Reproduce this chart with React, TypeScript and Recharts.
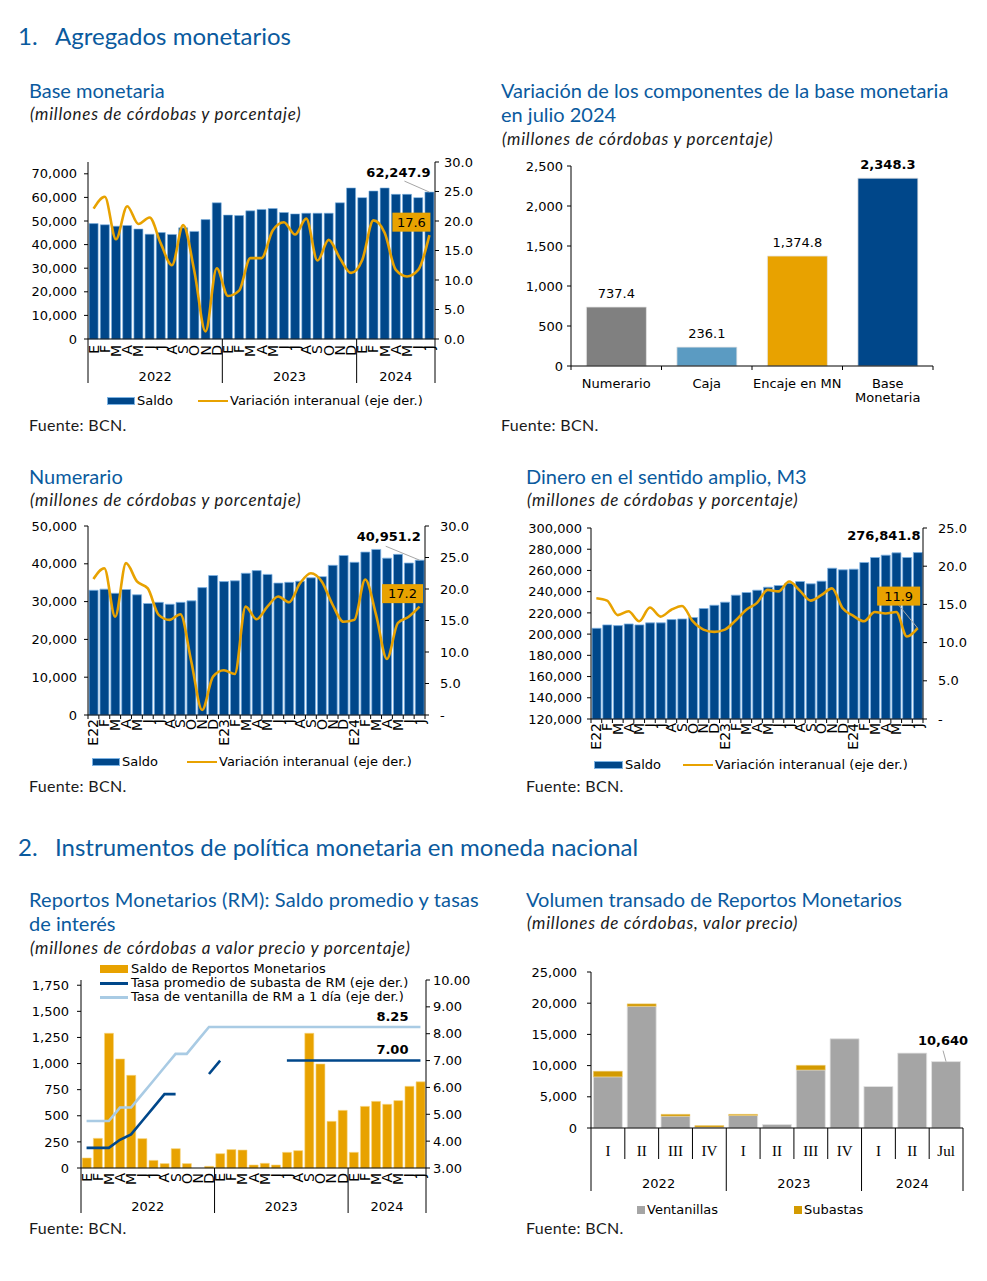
import {
  ComposedChart,
  Bar,
  Line,
  XAxis,
  YAxis,
  LabelList,
  Cell,
} from "recharts";

const AXIS_FONT = "'DejaVu Sans', Verdana, sans-serif";
const HEAD_FONT = "Lato, 'Noto Sans', sans-serif";
const SERIF = "'Liberation Serif', 'DejaVu Serif', serif";
const HEAD_BLUE = "#0a5a9e";
const NAVY = "#00478a";
const NAVY_EDGE = "#7db3e3";
const GOLD = "#e8a200";
const LIGHT_BLUE = "#a9cbe4";
const LEADER = "#a6a6a6";

// months, E = enero ... D = diciembre
const MONTHS = ["E", "F", "M", "A", "M", "J", "J", "A", "S", "O", "N", "D", "E", "F", "M", "A", "M", "J", "J", "A", "S", "O", "N", "D", "E", "F", "M", "A", "M", "J", "J"];
const MONTHS_TAGGED = ["E22", "F", "M", "A", "M", "J", "J", "A", "S", "O", "N", "D", "E23", "F", "M", "A", "M", "J", "J", "A", "S", "O", "N", "D", "E24", "F", "M", "A", "M", "J", "J"];
const YEARS = ["2022", "2023", "2024"];
const YEAR_MONTHS = [12, 12, 7];

// Base monetaria
const BASE_SALDO = [48900, 48400, 47800, 48100, 46600, 44400, 45100, 44300, 47100, 45600, 50600, 57700, 52500, 52300, 54300, 54900, 55300, 53600, 53000, 53300, 53300, 53300, 57700, 64000, 59900, 62700, 64000, 61300, 61300, 59900, 62247.9];
const BASE_VAR = [22.1, 24.1, 16.9, 22.5, 19.5, 20.6, 16.2, 12.5, 19.3, 11.5, 1.3, 12.0, 7.3, 8.2, 13.7, 13.7, 18.4, 19.8, 17.7, 20.4, 13.3, 16.8, 13.7, 11.2, 13.4, 20.1, 18.0, 11.7, 10.6, 11.7, 17.6];

// Variacion de componentes, julio 2024
const COMP_LABELS = ["Numerario", "Caja", "Encaje en MN", "Base\nMonetaria"];
const COMP_VALUES = [737.4, 236.1, 1374.8, 2348.3];
const COMP_COLORS = ["#808080", "#5b9bc2", GOLD, NAVY];

// Numerario
const NUM_SALDO = [33000, 33300, 32200, 33200, 31800, 29500, 29800, 29300, 29800, 30200, 33700, 36900, 35300, 35500, 37500, 38200, 37200, 34900, 35100, 35400, 36300, 36600, 39600, 42200, 40400, 43100, 43800, 41500, 42500, 40200, 40951.2];
const NUM_VAR = [21.6, 23.3, 15.6, 24.1, 21.2, 20.1, 15.9, 15.1, 16.0, 8.5, 0.8, 6.1, 7.1, 6.5, 17.2, 15.2, 17.2, 18.8, 17.9, 20.9, 22.5, 21.2, 17.5, 14.8, 15.1, 21.5, 15.9, 8.9, 14.6, 15.6, 17.2];

// M3
const M3_SALDO = [205500, 208700, 208000, 209600, 208700, 210600, 210600, 213700, 214300, 215600, 224100, 227200, 230100, 236700, 239200, 241400, 244200, 245800, 248000, 249600, 247400, 249900, 262100, 260600, 261200, 267500, 272200, 274400, 276600, 272200, 276841.8];
const M3_VAR = [15.8, 15.5, 13.6, 14.1, 12.8, 14.6, 13.4, 14.3, 14.8, 12.8, 11.7, 11.4, 11.7, 12.9, 14.3, 15.2, 16.9, 16.7, 18.0, 16.8, 15.5, 16.2, 17.1, 14.5, 13.5, 12.8, 14.0, 13.8, 14.0, 10.8, 11.9];

// Reportos monetarios
const RM_SALDO = [96, 284, 1290, 1044, 887, 281, 73, 42, 185, 42, 0, 16, 137, 176, 172, 29, 45, 29, 150, 166, 1290, 996, 447, 552, 150, 590, 638, 610, 645, 782, 825];
const RM_SUBASTA = [3.75, 3.75, 3.75, 4.05, 4.25, 4.75, 5.25, 5.75, 5.75, null, null, 6.5, 7.0, null, null, null, null, null, 7.0, 7.0, 7.0, 7.0, 7.0, 7.0, 7.0, 7.0, 7.0, 7.0, 7.0, 7.0, 7.0];
const RM_VENTANILLA = [4.75, 4.75, 4.75, 5.25, 5.25, 5.75, 6.25, 6.75, 7.25, 7.25, 7.75, 8.25, 8.25, 8.25, 8.25, 8.25, 8.25, 8.25, 8.25, 8.25, 8.25, 8.25, 8.25, 8.25, 8.25, 8.25, 8.25, 8.25, 8.25, 8.25, 8.25];

// Volumen transado
const VOL_PERIODS = ["I", "II", "III", "IV", "I", "II", "III", "IV", "I", "II", "Jul"];
const VOL_YEAR_PERIODS = [4, 4, 3];
const VOL_VENTANILLAS = [8200, 19500, 1900, 150, 2000, 550, 9300, 14300, 6650, 12000, 10640];
const VOL_SUBASTAS = [900, 400, 300, 250, 200, 0, 750, 0, 0, 0, 0];

const TICK = { fontSize: 13, fill: "#000", fontFamily: AXIS_FONT };
const AXIS = { stroke: "#000", strokeWidth: 1 };

const fmtThousands = (v: number) => v.toLocaleString("en-US");
const fmtDash = (v: number) => (v === 0 ? "-" : v.toFixed(1));
const fmtDec = (v: number) => v.toLocaleString("en-US", { minimumFractionDigits: 1, maximumFractionDigits: 1 });

function starts(counts: number[]) {
  const out: number[] = [];
  let acc = 0;
  counts.forEach((c) => {
    out.push(acc);
    acc += c;
  });
  return out;
}

// rotated month labels, optional year row with group separators
function monthTick(band: number, total: number, opts: { size: number; gap: number; minor?: boolean; sepLen?: number; yearDy?: number }) {
  const first = starts(YEAR_MONTHS);
  return (p: any) => {
    const { x, y, payload } = p;
    const index = p.index ?? payload.index;
    const ty = y + opts.gap;
    const g = first.indexOf(index);
    return (
      <g>
        <text x={x} y={ty} transform={`rotate(-90 ${x} ${ty})`} textAnchor="end" dy="0.36em" fontSize={opts.size} fontFamily={AXIS_FONT} fill="#000">
          {payload.value}
        </text>
        {opts.minor && <line x1={x - band / 2} x2={x - band / 2} y1={y} y2={y + 4} stroke="#000" />}
        {opts.minor && index === total - 1 && <line x1={x + band / 2} x2={x + band / 2} y1={y} y2={y + 4} stroke="#000" />}
        {opts.sepLen && g >= 0 && (
          <>
            <line x1={x - band / 2} x2={x - band / 2} y1={y} y2={y + opts.sepLen} stroke="#000" />
            <text x={x - band / 2 + (YEAR_MONTHS[g] * band) / 2} y={y + (opts.yearDy ?? 0)} textAnchor="middle" dominantBaseline="central" fontSize={13} fontFamily={AXIS_FONT} fill="#000">
              {YEARS[g]}
            </text>
          </>
        )}
        {opts.sepLen && index === total - 1 && <line x1={x + band / 2} x2={x + band / 2} y1={y} y2={y + opts.sepLen} stroke="#000" />}
      </g>
    );
  };
}

function box(p: any) {
  const vb = p.viewBox ?? {};
  return {
    x: vb.x ?? p.x,
    y: vb.y ?? p.y,
    w: vb.width ?? p.width ?? 0,
  };
}

// bold value over the last bar, with a thin leader line
function barCallout(total: number, dx: number, dy: number, fmt: (v: number) => string, leader?: [number, number]) {
  return (p: any) => {
    if (p.index !== total - 1) return null;
    const b = box(p);
    const cx = b.x + b.w / 2;
    return (
      <g>
        {leader && <line x1={cx + dx + leader[0]} y1={b.y + dy + leader[1]} x2={cx} y2={b.y} stroke={LEADER} strokeWidth={1} />}
        <text x={cx + dx} y={b.y + dy} textAnchor="middle" dominantBaseline="central" fontSize={13} fontWeight="bold" fontFamily={AXIS_FONT} fill="#000">
          {fmt(Number(p.value))}
        </text>
      </g>
    );
  };
}

// last line value inside a gold box
function boxCallout(total: number, dx: number, dy: number, w: number, leader: boolean) {
  return (p: any) => {
    if (p.index !== total - 1) return null;
    const b = box(p);
    const cx = b.x + dx;
    const cy = b.y + dy;
    return (
      <g>
        {leader && <line x1={cx} y1={cy + 9} x2={b.x} y2={b.y} stroke={LEADER} strokeWidth={1} />}
        <rect x={cx - w / 2} y={cy - 9.5} width={w} height={19} fill={GOLD} />
        <text x={cx} y={cy} textAnchor="middle" dominantBaseline="central" fontSize={13} fontFamily={AXIS_FONT} fill="#000">
          {Number(p.value).toFixed(1)}
        </text>
      </g>
    );
  };
}

function lineCallout(total: number, dx: number, dy: number) {
  return (p: any) => {
    if (p.index !== total - 1) return null;
    const b = box(p);
    return (
      <text x={b.x + dx} y={b.y + dy} textAnchor="middle" dominantBaseline="central" fontSize={13} fontWeight="bold" fontFamily={AXIS_FONT} fill="#000">
        {Number(p.value).toFixed(2)}
      </text>
    );
  };
}

function BaseChart() {
  const data = MONTHS.map((m, i) => ({ m, saldo: BASE_SALDO[i], v: BASE_VAR[i] }));
  const band = 347 / data.length;
  return (
    <ComposedChart width={460} height={250} data={data} margin={{ top: 12, right: 0, bottom: 0, left: 0 }} barCategoryGap="10%">
      <XAxis dataKey="m" interval={0} height={61} axisLine={AXIS} tickLine={false} tickSize={0} tickMargin={0}
        tick={monthTick(band, data.length, { size: 14, gap: 6, sepLen: 44, yearDy: 37 })} />
      <YAxis yAxisId="l" width={68} domain={[0, 75000]} ticks={[0, 10000, 20000, 30000, 40000, 50000, 60000, 70000]} interval={0}
        tickFormatter={fmtThousands} tick={TICK} axisLine={AXIS} tickLine={AXIS} tickSize={4} tickMargin={7} />
      <YAxis yAxisId="r" orientation="right" width={45} domain={[0, 30]} ticks={[0, 5, 10, 15, 20, 25, 30]} interval={0}
        tickFormatter={(v: number) => v.toFixed(1)} tick={TICK} axisLine={AXIS} tickLine={AXIS} tickSize={4} tickMargin={5} />
      <Bar yAxisId="l" dataKey="saldo" fill={NAVY} stroke={NAVY_EDGE} strokeWidth={0.6} isAnimationActive={false}>
        <LabelList dataKey="saldo" content={barCallout(data.length, -31, -20, fmtDec, [6, 9])} />
      </Bar>
      <Line yAxisId="r" type="monotone" dataKey="v" stroke={GOLD} strokeWidth={2.6} dot={false} activeDot={false} isAnimationActive={false}>
        <LabelList dataKey="v" content={boxCallout(data.length, -18, -13, 38, false)} />
      </Line>
    </ComposedChart>
  );
}

function CompChart() {
  const data = COMP_LABELS.map((c, i) => ({ c, v: COMP_VALUES[i] }));
  const band = 362 / data.length;
  const tick = (p: any) => {
    const lines = String(p.payload.value).split("\n");
    const index = p.index ?? p.payload.index;
    return (
      <g>
        <line x1={p.x - band / 2} x2={p.x - band / 2} y1={p.y} y2={p.y + 4} stroke="#000" />
        {index === data.length - 1 && <line x1={p.x + band / 2} x2={p.x + band / 2} y1={p.y} y2={p.y + 4} stroke="#000" />}
        {lines.map((l, i) => (
          <text key={i} x={p.x} y={p.y + 17 + i * 14} textAnchor="middle" dominantBaseline="central" fontSize={13} fontFamily={AXIS_FONT} fill="#000">
            {l}
          </text>
        ))}
      </g>
    );
  };
  const label = (p: any) => {
    const b = box(p);
    return (
      <text x={b.x + b.w / 2} y={b.y - 14} textAnchor="middle" dominantBaseline="central" fontSize={13}
        fontWeight={p.index === data.length - 1 ? "bold" : "normal"} fontFamily={AXIS_FONT} fill="#000">
        {fmtDec(Number(p.value))}
      </text>
    );
  };
  return (
    <ComposedChart width={450} height={260} data={data} margin={{ top: 16, right: 17, bottom: 0, left: 0 }} barCategoryGap="17%">
      <XAxis dataKey="c" interval={0} height={44} axisLine={AXIS} tickLine={false} tickSize={0} tickMargin={0} tick={tick} />
      <YAxis width={71} domain={[0, 2500]} ticks={[0, 500, 1000, 1500, 2000, 2500]} interval={0}
        tickFormatter={fmtThousands} tick={TICK} axisLine={AXIS} tickLine={AXIS} tickSize={4} tickMargin={4} />
      <Bar dataKey="v" isAnimationActive={false} stroke="#e6e6e6" strokeWidth={0.8}>
        {data.map((d, i) => (
          <Cell key={d.c} fill={COMP_COLORS[i]} />
        ))}
        <LabelList dataKey="v" content={label} />
      </Bar>
    </ComposedChart>
  );
}

function NumChart() {
  const data = MONTHS_TAGGED.map((m, i) => ({ m, saldo: NUM_SALDO[i], v: NUM_VAR[i] }));
  const band = 337 / data.length;
  return (
    <ComposedChart width={450} height={240} data={data} margin={{ top: 11, right: 0, bottom: 0, left: 0 }} barCategoryGap="10%">
      <XAxis dataKey="m" interval={0} height={40} axisLine={AXIS} tickLine={false} tickSize={0} tickMargin={0}
        tick={monthTick(band, data.length, { size: 14, gap: 4, minor: true })} />
      <YAxis yAxisId="l" width={68} domain={[0, 50000]} ticks={[0, 10000, 20000, 30000, 40000, 50000]} interval={0}
        tickFormatter={fmtThousands} tick={TICK} axisLine={AXIS} tickLine={AXIS} tickSize={4} tickMargin={7} />
      <YAxis yAxisId="r" orientation="right" width={45} domain={[0, 30]} ticks={[0, 5, 10, 15, 20, 25, 30]} interval={0}
        tickFormatter={fmtDash} tick={TICK} axisLine={AXIS} tickLine={AXIS} tickSize={4} tickMargin={11} />
      <Bar yAxisId="l" dataKey="saldo" fill={NAVY} stroke={NAVY_EDGE} strokeWidth={0.8} isAnimationActive={false}>
        <LabelList dataKey="saldo" content={barCallout(data.length, -31, -24, fmtDec, [-3, 10])} />
      </Bar>
      <Line yAxisId="r" type="monotone" dataKey="v" stroke={GOLD} strokeWidth={2.6} dot={false} activeDot={false} isAnimationActive={false}>
        <LabelList dataKey="v" content={boxCallout(data.length, -17, -13, 41, false)} />
      </Line>
    </ComposedChart>
  );
}

function M3Chart() {
  const data = MONTHS_TAGGED.map((m, i) => ({ m, saldo: M3_SALDO[i], v: M3_VAR[i] }));
  const band = 332 / data.length;
  return (
    <ComposedChart width={460} height={240} data={data} margin={{ top: 13, right: 0, bottom: 0, left: 0 }} barCategoryGap="10%">
      <XAxis dataKey="m" interval={0} height={36} axisLine={AXIS} tickLine={false} tickSize={0} tickMargin={0}
        tick={monthTick(band, data.length, { size: 14, gap: 4, minor: true })} />
      <YAxis yAxisId="l" width={81} domain={[120000, 300000]} interval={0}
        ticks={[120000, 140000, 160000, 180000, 200000, 220000, 240000, 260000, 280000, 300000]}
        tickFormatter={fmtThousands} tick={TICK} axisLine={AXIS} tickLine={AXIS} tickSize={4} tickMargin={5} />
      <YAxis yAxisId="r" orientation="right" width={47} domain={[0, 25]} ticks={[0, 5, 10, 15, 20, 25]} interval={0}
        tickFormatter={fmtDash} tick={TICK} axisLine={AXIS} tickLine={AXIS} tickSize={4} tickMargin={11} />
      <Bar yAxisId="l" dataKey="saldo" fill={NAVY} stroke={NAVY_EDGE} strokeWidth={0.8} isAnimationActive={false}>
        <LabelList dataKey="saldo" content={barCallout(data.length, -34, -17, fmtDec)} />
      </Bar>
      <Line yAxisId="r" type="monotone" dataKey="v" stroke={GOLD} strokeWidth={2.6} dot={false} activeDot={false} isAnimationActive={false}>
        <LabelList dataKey="v" content={boxCallout(data.length, -19, -32, 43, true)} />
      </Line>
    </ComposedChart>
  );
}

function RmChart() {
  const data = MONTHS.map((m, i) => ({ m, saldo: RM_SALDO[i], sub: RM_SUBASTA[i], vent: RM_VENTANILLA[i] }));
  const band = 345 / data.length;
  return (
    <ComposedChart width={460} height={260} data={data} margin={{ top: 20, right: 0, bottom: 0, left: 0 }} barCategoryGap="11%">
      <XAxis dataKey="m" interval={0} height={52} axisLine={AXIS} tickLine={false} tickSize={0} tickMargin={0}
        tick={monthTick(band, data.length, { size: 14, gap: 5, sepLen: 45, yearDy: 38 })} />
      <YAxis yAxisId="l" width={66} domain={[0, 1800]} ticks={[0, 250, 500, 750, 1000, 1250, 1500, 1750]} interval={0}
        tickFormatter={fmtThousands} tick={TICK} axisLine={AXIS} tickLine={AXIS} tickSize={4} tickMargin={8} />
      <YAxis yAxisId="r" orientation="right" width={49} domain={[3, 10]} ticks={[3, 4, 5, 6, 7, 8, 9, 10]} interval={0}
        tickFormatter={(v: number) => v.toFixed(2)} tick={TICK} axisLine={AXIS} tickLine={AXIS} tickSize={4} tickMargin={3} />
      <Bar yAxisId="l" dataKey="saldo" fill={GOLD} stroke="#f6d57e" strokeWidth={0.6} isAnimationActive={false}>
        <LabelList dataKey="saldo" content={barCallout(data.length, -15, -10, fmtThousands)} />
      </Bar>
      <Line yAxisId="r" type="linear" dataKey="vent" stroke={LIGHT_BLUE} strokeWidth={2.6} dot={false} activeDot={false} isAnimationActive={false}>
        <LabelList dataKey="vent" content={lineCallout(data.length, -28, -11)} />
      </Line>
      <Line yAxisId="r" type="linear" dataKey="sub" stroke={NAVY} strokeWidth={2.6} dot={false} activeDot={false} connectNulls={false} isAnimationActive={false}>
        <LabelList dataKey="sub" content={lineCallout(data.length, -28, -11.5)} />
      </Line>
    </ComposedChart>
  );
}

function VolChart() {
  const data = VOL_PERIODS.map((q, i) => ({ q, vent: VOL_VENTANILLAS[i], sub: VOL_SUBASTAS[i] }));
  const band = 372 / data.length;
  const first = starts(VOL_YEAR_PERIODS);
  const tick = (p: any) => {
    const index = p.index ?? p.payload.index;
    const g = first.indexOf(index);
    return (
      <g>
        <line x1={p.x - band / 2} x2={p.x - band / 2} y1={p.y} y2={p.y + (g >= 0 ? 63 : 31)} stroke="#000" />
        {index === data.length - 1 && <line x1={p.x + band / 2} x2={p.x + band / 2} y1={p.y} y2={p.y + 63} stroke="#000" />}
        <text x={p.x} y={p.y + 23} textAnchor="middle" dominantBaseline="central" fontSize={15} fontFamily={SERIF} fill="#000">
          {p.payload.value}
        </text>
        {g >= 0 && (
          <text x={p.x - band / 2 + (VOL_YEAR_PERIODS[g] * band) / 2} y={p.y + 55} textAnchor="middle" dominantBaseline="central" fontSize={13} fontFamily={AXIS_FONT} fill="#000">
            {YEARS[g]}
          </text>
        )}
      </g>
    );
  };
  return (
    <ComposedChart width={470} height={240} data={data} margin={{ top: 12, right: 17, bottom: 0, left: 0 }} barCategoryGap="7%">
      <XAxis dataKey="q" interval={0} height={72} axisLine={AXIS} tickLine={false} tickSize={0} tickMargin={0} tick={tick} />
      <YAxis width={81} domain={[0, 25000]} ticks={[0, 5000, 10000, 15000, 20000, 25000]} interval={0}
        tickFormatter={fmtThousands} tick={TICK} axisLine={AXIS} tickLine={AXIS} tickSize={4} tickMargin={10} />
      <Bar dataKey="vent" stackId="v" fill="#a5a5a5" stroke="#e3e3e3" strokeWidth={0.8} isAnimationActive={false}>
        <LabelList dataKey="vent" content={barCallout(data.length, -3, -21, fmtThousands, [0, 10])} />
      </Bar>
      <Bar dataKey="sub" stackId="v" fill="#d39a00" stroke="#f0d080" strokeWidth={0.5} isAnimationActive={false} />
    </ComposedChart>
  );
}

function Txt({ x, y, size, children, italic, color, font, spacing }: any) {
  return (
    <div
      style={{
        position: "absolute",
        left: x,
        top: y - size * 0.65,
        fontFamily: font ?? HEAD_FONT,
        fontSize: size,
        lineHeight: `${size * 1.3}px`,
        color: color ?? "#1a1a1a",
        fontStyle: italic ? "italic" : "normal",
        letterSpacing: spacing ?? 0,
        whiteSpace: "nowrap",
      }}
    >
      {children}
    </div>
  );
}

function Sub({ x, y, children }: any) {
  return (
    <Txt x={x} y={y} size={17} italic spacing="0.75px">
      {children}
    </Txt>
  );
}

function Key({ x, y, w, h, color, border, label, lx }: any) {
  return (
    <>
      <div style={{ position: "absolute", left: x, top: y - h / 2, width: w, height: h, background: color, boxShadow: border ? `inset 0 0 0 1px ${border}` : undefined }} />
      <Txt x={lx} y={y} size={13} font={AXIS_FONT} color="#000">{label}</Txt>
    </>
  );
}

function Chart({ x, y, children }: any) {
  return <div style={{ position: "absolute", left: x, top: y }}>{children}</div>;
}

export default function App() {
  return (
    <div style={{ position: "absolute", left: 0, top: 0, width: 987, height: 1281, background: "#fff", overflow: "hidden" }}>
      <Txt x={18} y={36} size={24} color={HEAD_BLUE}>1.</Txt>
      <Txt x={55} y={36} size={24} color={HEAD_BLUE}>Agregados monetarios</Txt>

      <Txt x={29} y={90} size={20} color={HEAD_BLUE}>Base monetaria</Txt>
      <Sub x={30} y={114}>(millones de córdobas y porcentaje)</Sub>
      <Chart x={20} y={150}><BaseChart /></Chart>
      <Key x={107} y={401} w={28} h={8} color={NAVY} border={NAVY_EDGE} label="Saldo" lx={137} />
      <Key x={198} y={401} w={30} h={2.5} color={GOLD} label="Variación interanual (eje der.)" lx={230} />
      <Txt x={29} y={425} size={16} spacing="0.3px">Fuente: BCN.</Txt>

      <Txt x={501} y={90} size={20} color={HEAD_BLUE}>Variación de los componentes de la base monetaria</Txt>
      <Txt x={501} y={114} size={20} color={HEAD_BLUE}>en julio 2024</Txt>
      <Sub x={502} y={139}>(millones de córdobas y porcentaje)</Sub>
      <Chart x={500} y={150}><CompChart /></Chart>
      <Txt x={501} y={425} size={16} spacing="0.3px">Fuente: BCN.</Txt>

      <Txt x={29} y={476} size={20} color={HEAD_BLUE}>Numerario</Txt>
      <Sub x={30} y={500}>(millones de córdobas y porcentaje)</Sub>
      <Chart x={20} y={515}><NumChart /></Chart>
      <Key x={92} y={762} w={28} h={8} color={NAVY} border={NAVY_EDGE} label="Saldo" lx={122} />
      <Key x={187} y={762} w={30} h={2.5} color={GOLD} label="Variación interanual (eje der.)" lx={219} />
      <Txt x={29} y={786} size={16} spacing="0.3px">Fuente: BCN.</Txt>

      <Txt x={526} y={476} size={20} color={HEAD_BLUE}>Dinero en el sentido amplio, M3</Txt>
      <Sub x={527} y={500}>(millones de córdobas y porcentaje)</Sub>
      <Chart x={510} y={515}><M3Chart /></Chart>
      <Key x={594} y={765} w={29} h={8} color={NAVY} border={NAVY_EDGE} label="Saldo" lx={625} />
      <Key x={683} y={765} w={30} h={2.5} color={GOLD} label="Variación interanual (eje der.)" lx={715} />
      <Txt x={526} y={786} size={16} spacing="0.3px">Fuente: BCN.</Txt>

      <Txt x={18} y={847} size={24} color={HEAD_BLUE}>2.</Txt>
      <Txt x={55} y={847} size={24} color={HEAD_BLUE}>Instrumentos de política monetaria en moneda nacional</Txt>

      <Txt x={29} y={899} size={20} color={HEAD_BLUE} spacing="0.15px">Reportos Monetarios (RM): Saldo promedio y tasas</Txt>
      <Txt x={29} y={923} size={20} color={HEAD_BLUE}>de interés</Txt>
      <Sub x={30} y={948}>(millones de córdobas a valor precio y porcentaje)</Sub>
      <Chart x={15} y={960}><RmChart /></Chart>
      <Key x={100} y={969} w={28} h={8} color={GOLD} label="Saldo de Reportos Monetarios" lx={131} />
      <Key x={100} y={983} w={28} h={3} color={NAVY} label="Tasa promedio de subasta de RM (eje der.)" lx={131} />
      <Key x={100} y={997} w={28} h={3} color={LIGHT_BLUE} label="Tasa de ventanilla de RM a 1 día (eje der.)" lx={131} />
      <Txt x={29} y={1228} size={16} spacing="0.3px">Fuente: BCN.</Txt>

      <Txt x={526} y={899} size={20} color={HEAD_BLUE}>Volumen transado de Reportos Monetarios</Txt>
      <Sub x={527} y={923}>(millones de córdobas, valor precio)</Sub>
      <Chart x={510} y={960}><VolChart /></Chart>
      <Key x={637} y={1210} w={8} h={8} color="#a5a5a5" label="Ventanillas" lx={647} />
      <Key x={794} y={1210} w={8} h={8} color="#d39a00" label="Subastas" lx={804} />
      <Txt x={526} y={1228} size={16} spacing="0.3px">Fuente: BCN.</Txt>
    </div>
  );
}
